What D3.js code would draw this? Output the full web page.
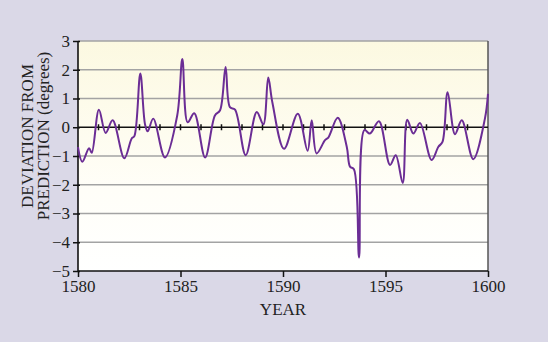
<!DOCTYPE html>
<html><head><meta charset="utf-8">
<script src="https://cdn.jsdelivr.net/npm/d3@7"></script>
<style>html,body{margin:0;padding:0;background:#dad8e7;}svg{display:block;}</style>
</head><body>
<svg id="c" width="548" height="342"></svg>
<script>
const years = [1580.0,1580.21,1580.54,1580.67,1581.02,1581.35,1581.69,1582.26,1582.62,1582.75,1583.04,1583.27,1583.40,1583.67,1584.24,1584.84,1585.09,1585.35,1585.67,1586.20,1586.68,1586.93,1587.20,1587.41,1587.66,1588.18,1588.72,1589.04,1589.28,1589.48,1590.05,1590.72,1591.20,1591.40,1591.64,1592.05,1592.21,1592.67,1593.11,1593.27,1593.46,1593.71,1593.97,1594.24,1594.68,1595.22,1595.50,1595.84,1596.06,1596.36,1596.68,1597.25,1597.58,1597.78,1598.03,1598.39,1598.72,1599.28,1599.85,1600.0];
const deviation = [-0.69,-1.2,-0.73,-0.89,0.61,-0.2,0.24,-1.08,-0.39,-0.31,1.87,0.1,-0.14,0.3,-1.05,0.41,2.37,0.17,0.49,-1.05,0.41,0.59,2.1,0.7,0.61,-0.97,0.53,0.1,1.73,0.87,-0.75,0.47,-0.82,0.24,-0.91,-0.45,-0.36,0.33,-0.68,-1.37,-1.46,-4.53,-0.1,-0.22,0.21,-1.31,-0.97,-1.94,0.26,-0.22,0.15,-1.14,-0.68,-0.51,1.22,-0.24,0.24,-1.11,0.3,1.16];
const xTicks = [1580,1585,1590,1595,1600];
const yTicks = [-5,-4,-3,-2,-1,0,1,2,3];
const yLabelLines = ["DEVIATION FROM","PREDICTION (degrees)"];
const xLabel = "YEAR";

const svg = d3.select("#c");
const L=78,R=488,T=41,B=271;
const x = d3.scaleLinear().domain([1580,1600]).range([L,R]);
const y = d3.scaleLinear().domain([-5,3]).range([B,T]);
const font = "'Liberation Serif', 'Times New Roman', serif";

const defs = svg.append("defs");
const g = defs.append("linearGradient").attr("id","bg").attr("x1",0).attr("y1",0).attr("x2",0).attr("y2",1);
g.append("stop").attr("offset","0%").attr("stop-color","#fcf9e1");
g.append("stop").attr("offset","65%").attr("stop-color","#fffef8");
g.append("stop").attr("offset","100%").attr("stop-color","#ffffff");
svg.append("rect").attr("x",L).attr("y",T).attr("width",R-L).attr("height",B-T).attr("fill","url(#bg)");

// gridlines
svg.append("g").selectAll("line").data(yTicks.filter(d=>d!==0 && d!==-5)).join("line")
  .attr("x1",L).attr("x2",R).attr("y1",d=>y(d)).attr("y2",d=>y(d))
  .attr("stroke","#a3a3a3").attr("stroke-width",1.6);
// right border
svg.append("line").attr("x1",R).attr("x2",R).attr("y1",T).attr("y2",B).attr("stroke","#555").attr("stroke-width",1.5);

// zero line with yearly ticks
svg.append("line").attr("x1",L).attr("x2",R).attr("y1",y(0)).attr("y2",y(0)).attr("stroke","#111").attr("stroke-width",1.6);
svg.append("g").selectAll("line").data(d3.range(1581,1600)).join("line")
  .attr("x1",d=>x(d)).attr("x2",d=>x(d)).attr("y1",y(0)-3).attr("y2",y(0)+3)
  .attr("stroke","#111").attr("stroke-width",1.5);

// axes
const xAxis = d3.axisBottom(x).tickValues(xTicks).tickFormat(d3.format("d")).tickSize(6).tickPadding(3);
const gx = svg.append("g").attr("transform",`translate(0,${B})`).call(xAxis);
gx.select(".domain").attr("stroke","#111").attr("stroke-width",1.6).attr("d",`M${L},0H${R}`);
gx.selectAll(".tick line").attr("stroke","#111").attr("stroke-width",1.5);
gx.selectAll("text").attr("font-family",font).attr("font-size",17).attr("fill","#222");

const yAxis = d3.axisLeft(y).tickValues(yTicks).tickFormat(d=>d<0?"\u2212"+Math.abs(d):d).tickSize(5).tickPadding(3);
const gy = svg.append("g").attr("transform",`translate(${L},0)`).call(yAxis);
gy.select(".domain").attr("stroke","#111").attr("stroke-width",1.6).attr("d",`M0,${T}V${B}`);
gy.selectAll(".tick line").attr("stroke","#111").attr("stroke-width",1.5).attr("x2",-5).attr("x1",2);
gy.selectAll("text").attr("font-family",font).attr("font-size",17).attr("fill","#222");

// line
const line = d3.line().x((d,i)=>x(years[i])).y(d=>y(d)).curve(d3.curveCatmullRom.alpha(0.5));
svg.append("path").datum(deviation).attr("d",line).attr("fill","none")
  .attr("stroke","#6b2d95").attr("stroke-width",2);

// labels
svg.append("text").attr("x",(L+R)/2).attr("y",315).attr("text-anchor","middle")
  .attr("font-family",font).attr("font-size",17).attr("fill","#222").text(xLabel);
const yl = svg.append("text").attr("transform","translate(0,136) rotate(-90)").attr("text-anchor","middle")
  .attr("font-family",font).attr("font-size",17).attr("fill","#222");
yl.selectAll("tspan").data(yLabelLines).join("tspan").attr("x",0).attr("y",(d,i)=>i===0?33:49).text(d=>d);
</script>
</body></html>
